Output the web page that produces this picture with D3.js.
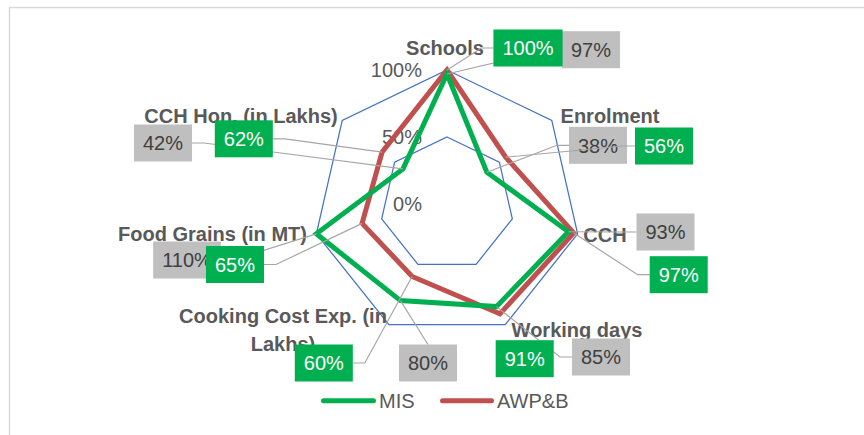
<!DOCTYPE html>
<html>
<head>
<meta charset="utf-8">
<script src="https://cdn.jsdelivr.net/npm/d3@7"></script>
<style>
  html, body { margin: 0; padding: 0; background: #ffffff; }
  svg { display: block; }
  text { font-family: "Liberation Sans", Arial, sans-serif; }
</style>
</head>
<body>
<svg id="chart" width="864" height="435"></svg>
<script>
// ---------- data ----------
const categories = ["Schools", "Enrolment", "CCH", "Working days", "Cooking Cost Exp. (in Lakhs)", "Food Grains (in MT)", "CCH Hon. (in Lakhs)"];
const categoryLines = [["Schools"], ["Enrolment"], ["CCH"], ["Working days"], ["Cooking Cost Exp. (in", "Lakhs)"], ["Food Grains (in MT)"], ["CCH Hon. (in Lakhs)"]];
const seriesNames = ["MIS", "AWP&B"];
const misValues = [0.97, 0.38, 0.93, 0.85, 0.80, 1.10, 0.42];
const awpValues = [1.00, 0.56, 0.97, 0.91, 0.60, 0.65, 0.62];
const tickValues = [0, 0.5, 1];
const tickLabels = ["0%", "50%", "100%"];

// ---------- layout (positions / styles) ----------
const W = 864, H = 435;
const cx = 447, cy = 204, R = 134;
const colors = { MIS: "#00b050", "AWP&B": "#c0504d" };
const catLabelPos = [[445, 54.5], [610, 123.3], [605, 242.3], [577, 336.7], [283, 322.5], [212.5, 240.5], [241, 122.5]];
const misBoxPos = [[591, 49.7], [598, 145.3], [665.5, 232], [601, 357], [428, 363], [187, 260], [163, 143]];
const misAttach = ["left", "left", "left", "left", "top", "right", "right"];
const awpBoxPos = [[528, 48], [664, 146], [678.7, 274.7], [524.7, 358.7], [323.8, 363], [235, 264.5], [243.8, 138.8]];
const awpAttach = ["left", "left", "left", "none", "right", "right", "right"];

const svg = d3.select("#chart");
svg.append("rect").attr("width", W).attr("height", H).attr("fill", "#fff");
svg.append("rect").attr("x", 9.5).attr("y", 7.5).attr("width", W + 20).attr("height", H + 20)
  .attr("fill", "none").attr("stroke", "#d9d9d9").attr("stroke-width", 1.5);

const n = categories.length;
const angle = d3.scaleLinear().domain([0, n]).range([0, 2 * Math.PI]);
const r = d3.scaleLinear().domain([0, 1]).range([0, R]).clamp(true);
const g = svg.append("g").attr("transform", `translate(${cx},${cy})`);

function pt(i, v) {
  const a = angle(i) - Math.PI / 2;
  return [cx + r(v) * Math.cos(a), cy + r(v) * Math.sin(a)];
}

// grid rings
const ringLine = d3.lineRadial().angle((d, i) => angle(i)).radius(d => r(d)).curve(d3.curveLinearClosed);
tickValues.filter(t => t > 0).forEach(t => {
  g.append("path").datum(categories.map(() => t)).attr("d", ringLine)
    .attr("fill", "none").attr("stroke", "#4472c4").attr("stroke-width", 1.25);
});

// tick labels
g.selectAll("text.tick").data(tickValues).enter().append("text")
  .attr("x", -25).attr("y", d => -r(d)).attr("dy", "0.36em")
  .attr("text-anchor", "end").attr("font-size", 20).attr("fill", "#595959")
  .text((d, i) => tickLabels[i]);

// category labels
categoryLines.forEach((lines, i) => {
  const t = svg.append("text").attr("text-anchor", "middle").attr("font-size", 20)
    .attr("font-weight", "bold").attr("fill", "#595959");
  lines.forEach((ln, j) => {
    t.append("tspan").attr("x", catLabelPos[i][0]).attr("y", catLabelPos[i][1] + j * 28.8).text(ln);
  });
});

// series lines (AWP&B below, MIS on top)
const seriesLine = d3.lineRadial().angle((d, i) => angle(i)).radius(d => r(d)).curve(d3.curveLinearClosed);
[["AWP&B", awpValues], ["MIS", misValues]].forEach(([name, vals]) => {
  g.append("path").datum(vals).attr("d", seriesLine)
    .attr("fill", "none").attr("stroke", colors[name]).attr("stroke-width", 5)
    .attr("stroke-linejoin", "miter").attr("stroke-miterlimit", 10);
});

// data labels
const fmt = d3.format(".0%");
function drawLabels(vals, pos, attach, fill, textColor) {
  vals.forEach((v, i) => {
    const [bx, by] = pos[i];
    const label = fmt(v);
    const grp = svg.append("g");
    const lead = grp.append("path").attr("fill", "none").attr("stroke", "#a6a6a6").attr("stroke-width", 1.2);
    const rect = grp.append("rect");
    const txt = grp.append("text").attr("x", bx).attr("y", by).attr("dy", "0.36em")
      .attr("text-anchor", "middle").attr("font-size", 20).attr("fill", textColor).text(label);
    const tw = txt.node().getComputedTextLength();
    const bw = tw + 18, bh = 37;
    rect.attr("x", bx - bw / 2).attr("y", by - bh / 2).attr("width", bw).attr("height", bh).attr("fill", fill);
    const p = pt(i, v);
    let d = null;
    if (attach[i] === "left") {
      const ax = bx - bw / 2;
      d = `M${ax},${by}L${ax - 12},${by}L${p[0]},${p[1]}`;
    } else if (attach[i] === "right") {
      const ax = bx + bw / 2;
      d = `M${ax},${by}L${ax + 12},${by}L${p[0]},${p[1]}`;
    } else if (attach[i] === "top") {
      d = `M${bx},${by - bh / 2}L${p[0]},${p[1]}`;
    }
    if (d) lead.attr("d", d); else lead.remove();
  });
}
drawLabels(misValues, misBoxPos, misAttach, "#bfbfbf", "#404040");
drawLabels(awpValues, awpBoxPos, awpAttach, "#00b050", "#ffffff");

// legend
const legend = [{ name: "MIS", x1: 321, x2: 376 }, { name: "AWP&B", x1: 440, x2: 494 }];
legend.forEach(l => {
  svg.append("line").attr("x1", l.x1 + 2.5).attr("x2", l.x2 - 2.5).attr("y1", 400.7).attr("y2", 400.7)
    .attr("stroke", colors[l.name]).attr("stroke-width", 5).attr("stroke-linecap", "round");
  svg.append("text").attr("x", l.x2 + 3).attr("y", 408).attr("font-size", 20).attr("fill", "#595959").text(l.name);
});
</script>
</body>
</html>
